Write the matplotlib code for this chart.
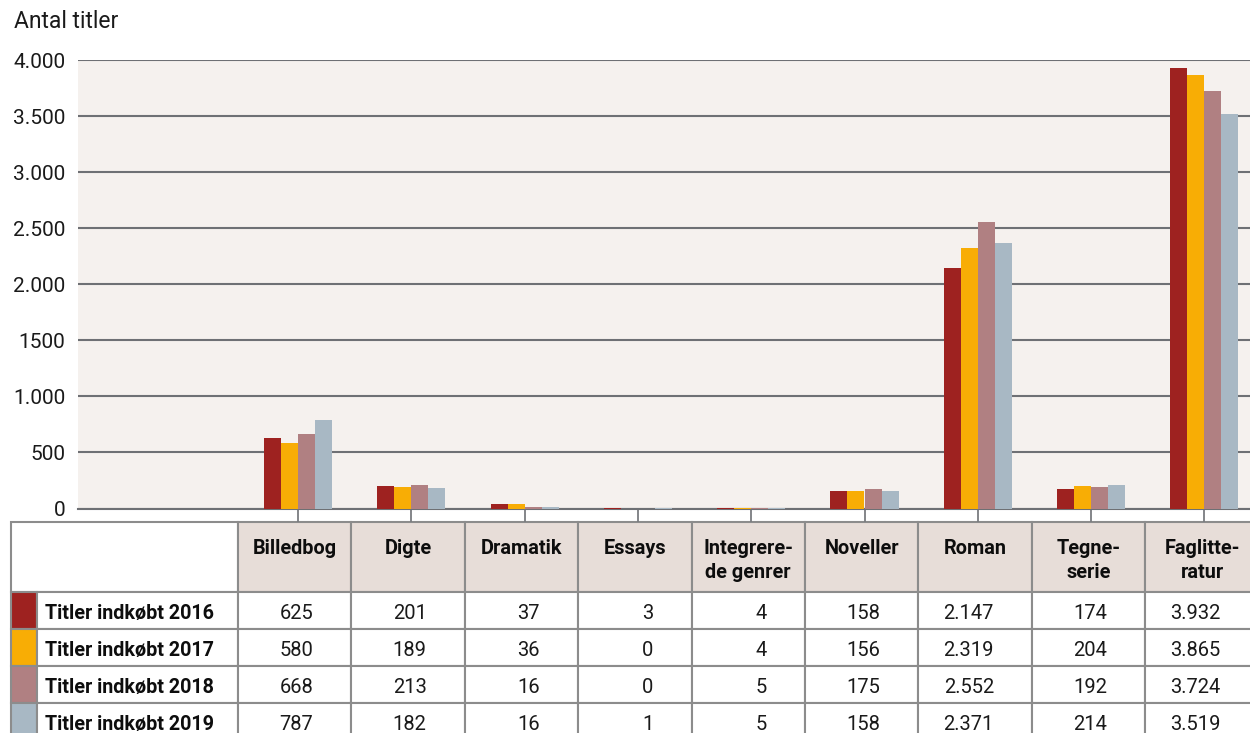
import matplotlib
matplotlib.use("Agg")
import matplotlib.pyplot as plt
from matplotlib.patches import Rectangle
import numpy as np

plt.rcParams['font.family'] = ['Roboto', 'DejaVu Sans']

categories = ["Billedbog", "Digte", "Dramatik", "Essays", "Integrere-\nde genrer",
              "Noveller", "Roman", "Tegne-\nserie", "Faglitte-\nratur"]
series_names = ["Titler indkøbt 2016", "Titler indkøbt 2017",
                "Titler indkøbt 2018", "Titler indkøbt 2019"]
v2016 = [625, 201, 37, 3, 4, 158, 2147, 174, 3932]
v2017 = [580, 189, 36, 0, 4, 156, 2319, 204, 3865]
v2018 = [668, 213, 16, 0, 5, 175, 2552, 192, 3724]
v2019 = [787, 182, 16, 1, 5, 158, 2371, 214, 3519]
series_values = [v2016, v2017, v2018, v2019]
colors = ["#9e2220", "#f8ad05", "#b08082", "#a8b8c4"]
y_ticks = [0, 500, 1000, 1500, 2000, 2500, 3000, 3500, 4000]
y_tick_labels = ["0", "500", "1.000", "1500", "2.000", "2.500", "3.000", "3.500", "4.000"]

def fmt(v):
    return f"{v:,}".replace(",", ".")

W, H = 1250, 733
fig = plt.figure(figsize=(W / 100, H / 100), dpi=100)

# main axes in pixel layout
ax_l, ax_r, ax_t, ax_b = 78, 1250, 60, 508.5
ax = fig.add_axes([ax_l / W, 1 - ax_b / H, (ax_r - ax_l) / W, (ax_b - ax_t) / H])
ax.set_facecolor("#f5f1ee")

spacing = 113.3
c0 = 298.0
x = np.arange(len(categories))
bw = 17.0 / spacing
for i, (vals, col) in enumerate(zip(series_values, colors)):
    ax.bar(x + (i - 1.5) * bw, vals, width=bw, color=col, zorder=3, linewidth=0)

ax.set_xlim((ax_l - c0) / spacing, (ax_r - c0) / spacing)
ax.set_ylim(0, 4000)
ax.set_yticks(y_ticks)
ax.set_yticklabels(y_tick_labels, fontsize=15, color="#1a1a1a")
ax.tick_params(axis='y', length=0, pad=9)
ax.set_xticks(x)
ax.set_xticklabels([])
ax.tick_params(axis='x', length=9, width=1.3, color="#7a7c80", direction='out')
ax.grid(axis='y', color="#6e7074", linewidth=1.5, zorder=1)
for s in ["left", "right", "top"]:
    ax.spines[s].set_visible(False)
ax.spines["bottom"].set_color("#6e7074")
ax.spines["bottom"].set_linewidth(1.5)

fig.text(14 / W, 1 - 22 / H, "Antal titler", fontsize=16.5, va='center', ha='left', color="#1a1a1a")

# table overlay axes in pixel coordinates
tab = fig.add_axes([0, 0, 1, 1], zorder=-1)
tab.set_xlim(0, W)
tab.set_ylim(H, 0)
tab.axis('off')

border = "#8c8c8c"
lw = 1.5
col_left0 = 237.7
col_w = 113.45
head_top, head_bot = 521.7, 592.0
row_h = 36.9

# header empty cell
tab.add_patch(Rectangle((11, head_top), col_left0 - 11, head_bot - head_top,
                        facecolor="white", edgecolor=border, linewidth=lw))
for j, cat in enumerate(categories):
    xl = col_left0 + j * col_w
    tab.add_patch(Rectangle((xl, head_top), col_w, head_bot - head_top,
                            facecolor="#e7ddd8", edgecolor=border, linewidth=lw))
    for k, line in enumerate(cat.split("\n")):
        tab.text(xl + col_w / 2, 554.5 + 23 * k, line, ha='center', va='baseline',
                 fontsize=14.3, fontweight='bold', color="#0d0d0d")

for i, (name, vals, col) in enumerate(zip(series_names, series_values, colors)):
    yt = head_bot + i * row_h
    tab.add_patch(Rectangle((11, yt), 26, row_h, facecolor=col, edgecolor=border, linewidth=lw))
    tab.add_patch(Rectangle((37, yt), col_left0 - 37, row_h, facecolor="white",
                            edgecolor=border, linewidth=lw))
    tab.text(45, yt + 27, name, ha='left', va='baseline', fontsize=14.2,
             fontweight='bold', color="#0d0d0d")
    for j, v in enumerate(vals):
        xl = col_left0 + j * col_w
        tab.add_patch(Rectangle((xl, yt), col_w, row_h, facecolor="white",
                                edgecolor=border, linewidth=lw))
        tab.text(xl + 75.5, yt + 27, fmt(v), ha='right', va='baseline', fontsize=14.5,
                 color="#1a1a1a")

fig.savefig("out.png", dpi=100)
